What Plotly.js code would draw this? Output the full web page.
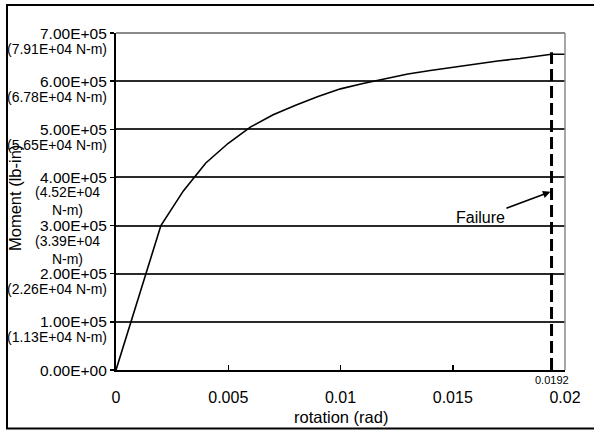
<!DOCTYPE html>
<html>
<head>
<meta charset="utf-8">
<script src="https://cdn.plot.ly/plotly-3.0.1.min.js"></script>
<style>html,body{margin:0;padding:0;background:#fff;}#chart{width:594px;height:431px;}</style>
</head>
<body>
<div id="chart"></div>
<script>
// Moment-rotation curve
var rotation = [0, 0.002, 0.003, 0.004, 0.005, 0.006, 0.007, 0.008, 0.009, 0.010, 0.011, 0.012, 0.013, 0.014, 0.015, 0.016, 0.017, 0.018, 0.0194, 0.020];
var moment   = [0, 300000, 372000, 430000, 471000, 505000, 530000, 550000, 568000, 584000, 595000, 605000, 615000, 622000, 629000, 636000, 642000, 647000, 656000, 656000];

// Failure marker
var failureX = [0.0194, 0.0194];
var failureY = [0, 660000];
var failureLabel = "0.0192";

// Axis ticks
var xTickVals = [0, 0.005, 0.01, 0.015, 0.02];
var xTickText = ["0", "0.005", "0.01", "0.015", "0.02"];
var yTickVals = [0, 100000, 200000, 300000, 400000, 500000, 600000, 700000];
var yTickMain = ["0.00E+00", "1.00E+05", "2.00E+05", "3.00E+05", "4.00E+05", "5.00E+05", "6.00E+05", "7.00E+05"];
var yTickSI   = ["", "(1.13E+04 N-m)", "(2.26E+04 N-m)", "(3.39E+04<br>N-m)", "(4.52E+04<br>N-m)", "(5.65E+04 N-m)", "(6.78E+04 N-m)", "(7.91E+04 N-m)"];

var FONT = "Liberation Sans, Arial, Helvetica, sans-serif";

var traces = [
  {x: rotation, y: moment, type: "scatter", mode: "lines",
   line: {color: "#000", width: 1.6}, hoverinfo: "skip"},
  {x: failureX, y: failureY, type: "scatter", mode: "lines",
   line: {color: "#000", width: 3, dash: "12px,5px"}, hoverinfo: "skip"}
];

var ML = 116, MT = 33, W = 594, H = 431, PW = 449, PH = 337;
function px2paperX(px) { return (px - ML) / PW; }
function px2paperY(py) { return (MT + PH - py) / PH; }

var annotations = [];
for (var i = 0; i < yTickVals.length; i++) {
  annotations.push({xref: "paper", yref: "y", x: 0, y: yTickVals[i], xshift: -7,
    xanchor: "right", yanchor: "middle", showarrow: false, text: yTickMain[i],
    font: {family: FONT, size: 15.5, color: "#000"}});
  if (yTickSI[i]) {
    var multi = yTickSI[i].indexOf("<br>") >= 0;
    annotations.push({xref: "paper", yref: "y", x: multi ? px2paperX(67) : 0,
      y: yTickVals[i], xshift: multi ? 0 : -7, yshift: multi ? -24 : -15.5,
      xanchor: multi ? "center" : "right", yanchor: "middle", align: "center",
      showarrow: false, text: yTickSI[i],
      font: {family: FONT, size: 14, color: "#000"}});
  }
}
annotations.push({xref: "paper", yref: "paper", x: px2paperX(15), y: px2paperY(198),
  textangle: -90, showarrow: false, text: "Moment (lb-in)",
  xanchor: "center", yanchor: "middle", font: {family: FONT, size: 16.5, color: "#000"}});
annotations.push({xref: "paper", yref: "paper", x: 0.5, y: px2paperY(417),
  showarrow: false, text: "rotation (rad)", xanchor: "center", yanchor: "middle",
  font: {family: FONT, size: 16.5, color: "#000"}});
annotations.push({xref: "x", yref: "paper", x: failureX[0], y: px2paperY(380),
  showarrow: false, text: failureLabel, xanchor: "center", yanchor: "middle",
  font: {family: FONT, size: 11, color: "#000"}});
annotations.push({xref: "x", yref: "y", x: 0.01935, y: 370000, ax: -70, ay: 26,
  text: "Failure", showarrow: true, arrowhead: 2, arrowsize: 1, arrowwidth: 1.5,
  arrowcolor: "#000", standoff: 0, startstandoff: 0,
  font: {family: FONT, size: 16, color: "#000"}});

var layout = {
  width: W, height: H,
  margin: {l: ML, r: W - ML - PW, t: MT, b: H - MT - PH},
  paper_bgcolor: "#fff", plot_bgcolor: "#fff",
  showlegend: false,
  font: {family: FONT, size: 15, color: "#000"},
  xaxis: {range: [0, 0.02], tickvals: xTickVals, ticktext: xTickText,
    ticks: "inside", ticklen: 5, tickwidth: 1.5, tickcolor: "#000",
    showgrid: false, zeroline: false, showline: true, linecolor: "#000", linewidth: 2,
    ticklabelstandoff: 12, tickfont: {family: FONT, size: 16, color: "#000"}},
  yaxis: {range: [0, 700000], tickvals: yTickVals, showticklabels: false,
    ticks: "outside", ticklen: 4, tickwidth: 1.5, tickcolor: "#000",
    showgrid: true, gridcolor: "#2a2a2a", gridwidth: 2,
    zeroline: false, showline: true, linecolor: "#000", linewidth: 2},
  annotations: annotations,
  shapes: [
    {type: "line", xref: "paper", yref: "paper", x0: 0, x1: 1, y0: 1, y1: 1,
     line: {color: "#8a8a8a", width: 2}},
    {type: "line", xref: "paper", yref: "paper", x0: 1, x1: 1, y0: 0, y1: 1,
     line: {color: "#8a8a8a", width: 1.5}},
    {type: "rect", xref: "paper", yref: "paper", x0: px2paperX(7), x1: px2paperX(640),
     y0: px2paperY(428.5), y1: px2paperY(5), line: {color: "#000", width: 2}}
  ]
};

Plotly.newPlot("chart", traces, layout, {staticPlot: true, displayModeBar: false});
</script>
</body>
</html>
